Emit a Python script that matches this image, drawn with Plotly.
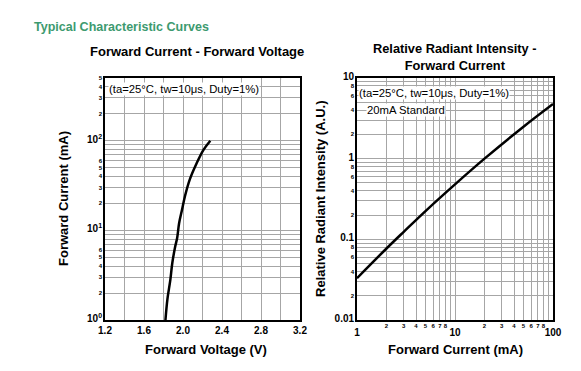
import plotly.graph_objects as go
import math

# ---- data ----
vf_voltage = [1.82, 1.84, 1.87, 1.89, 1.92, 1.94, 1.96, 1.99, 2.02, 2.07, 2.14, 2.21, 2.28]
vf_current = [1, 1.7, 2.8, 4.3, 6.6, 8.2, 12, 17, 24, 37, 56, 79, 100]

ri_current = [1, 2, 3, 5, 10, 20, 50, 100]
ri_intensity = [0.033, 0.077, 0.124, 0.224, 0.48, 1.0, 2.49, 4.76]

left_x_ticks = [1.2, 1.4, 1.6, 1.8, 2.0, 2.2, 2.4, 2.6, 2.8, 3.0, 3.2]
left_x_labels = ["1.2", "", "1.6", "", "2.0", "", "2.4", "", "2.8", "", "3.2"]

right_x_ticks = [1, 2, 3, 4, 5, 6, 7, 8, 9, 10, 20, 30, 40, 50, 60, 70, 80, 90, 100]
right_x_major = [1, 10, 100]
right_y_ticks = [0.01, 0.02, 0.03, 0.04, 0.05, 0.06, 0.07, 0.08, 0.09,
                 0.1, 0.2, 0.3, 0.4, 0.5, 0.6, 0.7, 0.8, 0.9,
                 1, 2, 3, 4, 5, 6, 7, 8, 9, 10]

FONT = "Liberation Sans, Arial, sans-serif"
GRID = "#a6a6a6"


def small(t):
    return '<span style="font-size:6px">%s</span>' % t


def big(t):
    return '<span style="font-size:10px">%s</span>' % t


# left y ticks: 1..500
left_y_ticks, left_y_labels = [], []
for dec in range(3):
    for m in range(1, 10):
        v = m * 10 ** dec
        if v > 500:
            break
        left_y_ticks.append(v)
        if m == 1:
            left_y_labels.append(big("10<sup>%d</sup>" % dec))
        elif m <= 6:
            left_y_labels.append(small(str(m)))
        else:
            left_y_labels.append(" ")

right_x_labels = []
for v in right_x_ticks:
    if v in right_x_major:
        right_x_labels.append(" ")
    else:
        m = int(round(v / 10 ** math.floor(math.log10(v))))
        right_x_labels.append(str(m) if m <= 8 else " ")

right_y_labels = []
for v in right_y_ticks:
    e = math.floor(math.log10(v) + 1e-9)
    m = int(round(v / 10 ** e))
    if m == 1:
        right_y_labels.append(big({-2: "0.01", -1: "0.1", 0: "1", 1: "10"}[e]))
    elif m in (2, 4, 6, 8):
        right_y_labels.append(small(str(m)))
    else:
        right_y_labels.append(" ")

fig = go.Figure()
fig.add_trace(go.Scatter(x=vf_voltage, y=vf_current, mode="lines",
                         line=dict(color="black", width=2.5, shape="spline"),
                         xaxis="x", yaxis="y", showlegend=False))
fig.add_trace(go.Scatter(x=ri_current, y=ri_intensity, mode="lines",
                         line=dict(color="black", width=2.5, shape="spline"),
                         xaxis="x2", yaxis="y2", showlegend=False))
# invisible companion so the major-label axis (x3) is drawn
fig.add_trace(go.Scatter(x=ri_current, y=ri_intensity, mode="lines", opacity=0,
                         line=dict(color="rgba(0,0,0,0)", width=0), hoverinfo="skip",
                         xaxis="x3", yaxis="y2", showlegend=False))

W, H = 581, 371
OX, OY = 8, 8  # page body margin offset


def px(x):
    return (x - OX) / W


def py(y):
    return 1 - (y - OY) / H


axis_common = dict(showgrid=True, gridcolor=GRID, gridwidth=1, showline=True,
                   linecolor="black", linewidth=1.5, mirror=True, ticks="",
                   zeroline=False, automargin=False, tickangle=0,
                   tickfont=dict(family=FONT, size=6, color="black", weight="bold"))

fig.update_layout(
    width=W, height=H,
    margin=dict(l=0, r=0, t=0, b=0, autoexpand=False),
    paper_bgcolor="white", plot_bgcolor="white",
    font=dict(family=FONT, color="black"),
    xaxis=dict(domain=[px(105), px(300)], range=[1.2, 3.2], tickmode="array",
               tickvals=left_x_ticks, ticktext=[t if t else " " for t in left_x_labels],
               anchor="y",
               **{**axis_common, "tickfont": dict(family=FONT, size=10, color="black", weight="bold")}),
    yaxis=dict(domain=[py(320), py(78)], type="log", range=[0, math.log10(500)],
               tickmode="array", tickvals=left_y_ticks, ticktext=left_y_labels,
               anchor="x", **axis_common),
    xaxis2=dict(domain=[px(357), px(553)], type="log", range=[0, 2], tickmode="array",
                tickvals=right_x_ticks, ticktext=right_x_labels, anchor="y2",
                ticklabelstandoff=-1, **axis_common),
    xaxis3=dict(type="log", range=[0, 2], overlaying="x2", anchor="y2", side="bottom",
                tickmode="array", tickvals=right_x_major, ticktext=[str(v) for v in right_x_major],
                showgrid=False, showline=False, zeroline=False, ticks="", automargin=False,
                tickangle=0, ticklabelstandoff=5,
                tickfont=dict(family=FONT, size=10, color="black", weight="bold")),
    yaxis2=dict(domain=[py(320), py(78)], type="log", range=[-2, 1], tickmode="array",
                tickvals=right_y_ticks, ticktext=right_y_labels, anchor="x2", **axis_common),
)

ann = []
ann.append(dict(x=px(32), y=py(27), xref="paper", yref="paper", xanchor="left", yanchor="middle",
                text="<b>Typical Characteristic Curves</b>", showarrow=False,
                font=dict(family=FONT, size=12.5, color="#3d9a6f")))
ann.append(dict(x=px(197), y=py(51), xref="paper", yref="paper", xanchor="center", yanchor="middle",
                text="<b>Forward Current - Forward Voltage</b>", showarrow=False,
                font=dict(family=FONT, size=13, color="black")))
ann.append(dict(x=px(455), y=py(56.5), xref="paper", yref="paper", xanchor="center", yanchor="middle",
                text="<b>Relative Radiant Intensity -<br>Forward Current</b>", showarrow=False,
                font=dict(family=FONT, size=12.8, color="black")))
ann.append(dict(x=px(206), y=py(349), xref="paper", yref="paper", xanchor="center", yanchor="middle",
                text="<b>Forward Voltage (V)</b>", showarrow=False,
                font=dict(family=FONT, size=13, color="black")))
ann.append(dict(x=px(455), y=py(349), xref="paper", yref="paper", xanchor="center", yanchor="middle",
                text="<b>Forward Current (mA)</b>", showarrow=False,
                font=dict(family=FONT, size=13, color="black")))
ann.append(dict(x=px(63), y=py(199), xref="paper", yref="paper", xanchor="center", yanchor="middle",
                text="<b>Forward Current (mA)</b>", showarrow=False, textangle=-90,
                font=dict(family=FONT, size=13, color="black")))
ann.append(dict(x=px(320), y=py(199), xref="paper", yref="paper", xanchor="center", yanchor="middle",
                text="<b>Relative Radiant Intensity (A.U.)</b>", showarrow=False, textangle=-90,
                font=dict(family=FONT, size=13, color="black")))
cond = "(ta=25°C, tw=10μs, Duty=1%)"
ann.append(dict(x=px(108), y=py(89), xref="paper", yref="paper", xanchor="left", yanchor="middle",
                text=cond, showarrow=False, bgcolor="white", borderpad=0,
                font=dict(family=FONT, size=11.3, color="black")))
ann.append(dict(x=px(358), y=py(92.5), xref="paper", yref="paper", xanchor="left", yanchor="middle",
                text=cond, showarrow=False, bgcolor="white", borderpad=0,
                font=dict(family=FONT, size=11.3, color="black")))
ann.append(dict(x=px(366), y=py(110), xref="paper", yref="paper", xanchor="left", yanchor="middle",
                text="20mA Standard", showarrow=False, bgcolor="white", borderpad=0,
                font=dict(family=FONT, size=11.3, color="black")))
fig.update_layout(annotations=ann)

fig.write_html("out.html")
